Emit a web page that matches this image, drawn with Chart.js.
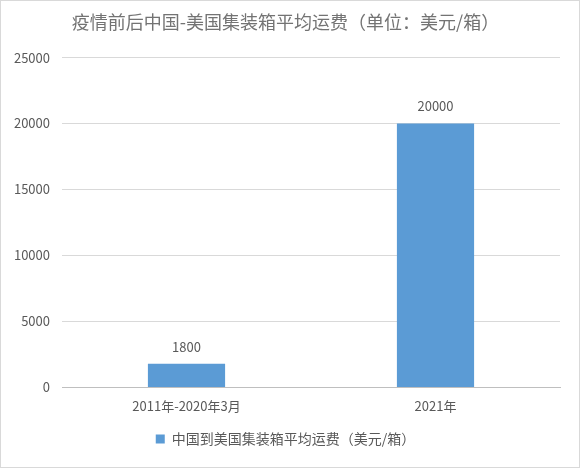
<!DOCTYPE html>
<html>
<head>
<meta charset="utf-8">
<script src="https://cdn.jsdelivr.net/npm/chart.js@4.4.0/dist/chart.umd.min.js"></script>
<style>
    html, body { margin: 0; padding: 0; background: #fff; }
    #wrap { width: 580px; height: 468px; box-sizing: border-box; border: 1px solid #d9d9d9; }
    #wrap canvas { display: block; }
</style>
</head>
<body>
<div id="wrap"><canvas id="freightChart" width="578" height="466"></canvas></div>
<script>
const categories = ['2011年-2020年3月', '2021年'];
const freightValues = [1800, 20000];
const seriesName = '中国到美国集装箱平均运费（美元/箱）';
const chartTitle = '疫情前后中国-美国集装箱平均运费（单位：美元/箱）';

const FONT = '"Noto Sans CJK SC", "Noto Sans", sans-serif';
const TEXT = '#595959';

// Draw value labels above each bar
const barValueLabels = {
    id: 'barValueLabels',
    afterDatasetsDraw(chart) {
        const ctx = chart.ctx;
        const meta = chart.getDatasetMeta(0);
        ctx.save();
        ctx.font = '13px ' + FONT;
        ctx.fillStyle = TEXT;
        ctx.textAlign = 'center';
        ctx.textBaseline = 'middle';
        meta.data.forEach((bar, i) => {
            ctx.fillText(String(chart.data.datasets[0].data[i]), bar.x, bar.y - 17);
        });
        ctx.restore();
    }
};

const ctx = document.getElementById('freightChart').getContext('2d');
const freightChart = new Chart(ctx, {
    type: 'bar',
    data: {
        labels: categories,
        datasets: [{
            label: seriesName,
            data: freightValues,
            backgroundColor: '#5B9BD5',
            barPercentage: 0.62,
            categoryPercentage: 0.5
        }]
    },
    options: {
        responsive: false,
        animation: false,
        layout: { padding: { left: 10, right: 19, top: 6, bottom: 11 } },
        plugins: {
            title: {
                display: true,
                text: chartTitle,
                color: '#737373',
                font: { family: FONT, size: 18, weight: 'normal' },
                padding: { top: 4, bottom: 25 }
            },
            legend: {
                position: 'bottom',
                labels: {
                    color: TEXT,
                    font: { family: FONT, size: 14 },
                    boxWidth: 9,
                    boxHeight: 9,
                    padding: 7
                }
            },
            tooltip: { enabled: false }
        },
        scales: {
            x: {
                grid: { display: false, drawTicks: false },
                border: { color: '#bfbfbf' },
                ticks: { color: TEXT, font: { family: FONT, size: 13 }, padding: 11 }
            },
            y: {
                min: 0,
                max: 25000,
                grid: { color: '#d9d9d9', drawTicks: false },
                border: { display: false },
                ticks: {
                    stepSize: 5000,
                    color: TEXT,
                    font: { family: FONT, size: 13 },
                    padding: 12,
                    callback: (value) => String(value)
                },
                afterFit(scale) { scale.width = 51; }
            }
        }
    },
    plugins: [barValueLabels]
});
</script>
</body>
</html>
